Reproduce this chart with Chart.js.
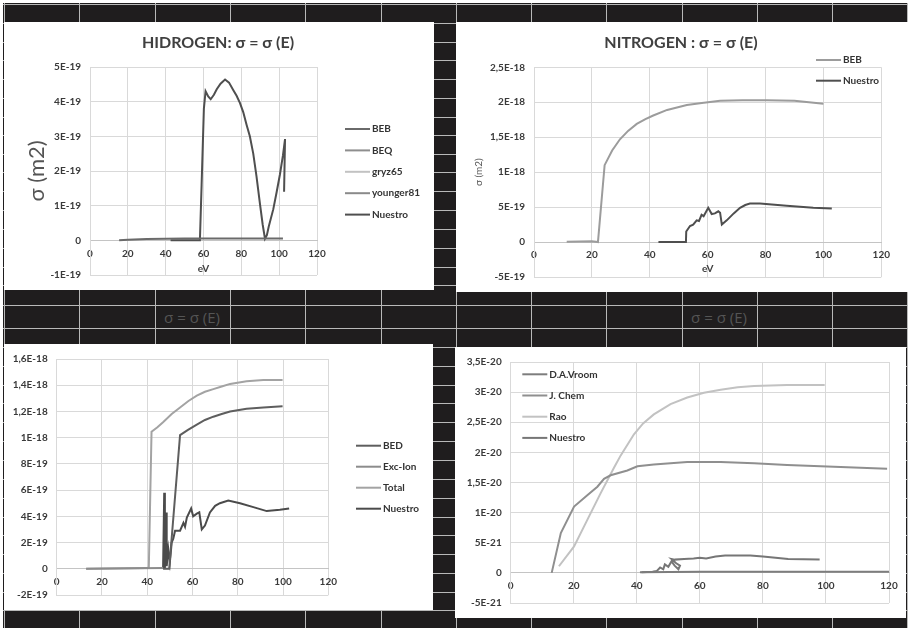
<!DOCTYPE html>
<html>
<head>
<meta charset="utf-8">
<script src="https://cdn.jsdelivr.net/npm/chart.js@4.4.1/dist/chart.umd.min.js"></script>
<style>
  html, body { margin: 0; padding: 0; background: #fff; }
  body { width: 908px; height: 628px; position: relative; overflow: hidden; font-family: Lato, sans-serif; }
  #sheet { position: absolute; left: 3px; top: 3px; width: 905px; height: 625px; background: #1f1d1e; }
  .gl { position: absolute; background: #b9b9b9; }
  .panel { position: absolute; background: #fff; }
  .panel canvas { display: block; }
  .cap { position: absolute; color: #555; font: 15px 'Open Sans', Lato, sans-serif; transform: translateX(-50%); white-space: nowrap; }
</style>
</head>
<body>
<div id="sheet"></div>
<div class="cap" style="left:192px; top:307px">σ = σ (E)</div>
<div class="cap" style="left:719px; top:307px">σ = σ (E)</div>
<div class="panel" style="left:4px; top:22px; width:430px; height:268px"><canvas id="hydrogen" width="430" height="268"></canvas></div>
<div class="panel" style="left:456px; top:22px; width:452px; height:270px"><canvas id="nitrogen" width="452" height="270"></canvas></div>
<div class="panel" style="left:4px; top:344px; width:429px; height:266px"><canvas id="chartC" width="429" height="266"></canvas></div>
<div class="panel" style="left:455px; top:347px; width:451px; height:271px"><canvas id="chartD" width="451" height="271"></canvas></div>
<script>
// shared x ticks (eV)
const xTicks = [0, 20, 40, 60, 80, 100, 120];

// --- HIDROGEN (values in 1E-19 m2) ---
const h2Series = ['BEB', 'BEQ', 'gryz65', 'younger81', 'Nuestro'];
const h2YTicks = [-1e-19, 0, 1e-19, 2e-19, 3e-19, 4e-19, 5e-19];
const h2YLabels = ['-1E-19', '0', '1E-19', '2E-19', '3E-19', '4E-19', '5E-19'];
const h2BEB = [[15.4, 0], [20, 0.02], [30, 0.04], [50, 0.05], [80, 0.05], [102, 0.05]];
const h2BEQ = [];
const h2Gryz = [];
const h2Younger = [];
const h2Nuestro = [[42.6, 0], [58.1, 0], [59, 1.6], [60.2, 3.8], [61.1, 4.3], [62.5, 4.15], [63.8, 4.07],
  [65.5, 4.2], [67, 4.36], [69, 4.52], [71.4, 4.64], [73.5, 4.55], [75.7, 4.34], [77.5, 4.17],
  [79.3, 3.96], [81, 3.7], [82.8, 3.33], [84.5, 3.0], [86.3, 2.5], [88, 1.85], [89.9, 1.03],
  [91.3, 0.45], [92.5, 0.05], [93.5, 0.15], [94.5, 0.4], [96.9, 0.9], [98.7, 1.4], [100.4, 1.9],
  [102, 2.45], [103.1, 2.92], [102.6, 1.4]];

// --- NITROGEN (values in 1E-18 m2) ---
const n2Series = ['BEB', 'Nuestro'];
const n2YTicks = [-5e-19, 0, 5e-19, 1e-18, 1.5e-18, 2e-18, 2.5e-18];
const n2YLabels = ['-5E-19', '0', '5E-19', '1E-18', '1,5E-18', '2E-18', '2,5E-18'];
const n2BEB = [[11.3, 0.005], [20, 0.01], [22.1, 0], [24.4, 1.10], [27, 1.31], [29.7, 1.47], [32.5, 1.59],
  [35.5, 1.69], [38.5, 1.76], [41.2, 1.81], [46, 1.89], [52.8, 1.96], [58, 1.99], [64.3, 2.02],
  [72, 2.03], [80.4, 2.03], [90, 2.02], [100, 1.98]];
const n2Nuestro = [[43, 0], [52.5, 0], [52.6, 0.15], [53.9, 0.23], [55, 0.25], [56.2, 0.31], [57, 0.3],
  [57.9, 0.39], [58.6, 0.37], [60.2, 0.49], [61.4, 0.40], [62.5, 0.41], [63.7, 0.44], [64.3, 0.42],
  [64.9, 0.25], [66.6, 0.31], [69, 0.41], [71.2, 0.49], [73, 0.53], [74.6, 0.55], [78.1, 0.55],
  [87.3, 0.52], [96.5, 0.49], [102.9, 0.48]];

// --- third chart (values in 1E-18 m2) ---
const cSeries = ['BED', 'Exc-Ion', 'Total', 'Nuestro'];
const cYTicks = [-2e-19, 0, 2e-19, 4e-19, 6e-19, 8e-19, 1e-18, 1.2e-18, 1.4e-18, 1.6e-18];
const cYLabels = ['-2E-19', '0', '2E-19', '4E-19', '6E-19', '8E-19', '1E-18', '1,2E-18', '1,4E-18', '1,6E-18'];
const cBED = [[47, 0], [49.7, 0], [54.5, 1.02], [58, 1.06], [61.9, 1.10], [65.5, 1.135], [69.2, 1.16],
  [72.9, 1.18], [76.6, 1.20], [83.9, 1.22], [91.3, 1.23], [99.8, 1.24]];
const cExcIon = [[13, 0], [47, 0.005]];
const cTotal = [[13, 0], [39.7, 0.005], [40.7, 0.01], [41.9, 1.045], [44.5, 1.08], [47.1, 1.12],
  [50.8, 1.18], [54.5, 1.23], [58.2, 1.28], [61.9, 1.32], [65.5, 1.35], [69.2, 1.37], [72.9, 1.39],
  [76.6, 1.41], [83.9, 1.43], [91.3, 1.44], [99.8, 1.44]];
const cNuestro = [[47, 0], [47.5, 0.58], [47.8, 0], [48.3, 0.43], [48.6, 0.02], [49.3, 0.15], [50, 0.05],
  [50.8, 0.2], [51.5, 0.23], [52.3, 0.29], [54.5, 0.29], [56, 0.35], [56.7, 0.32], [57.5, 0.39],
  [59.4, 0.46], [60.3, 0.40], [61.9, 0.42], [63, 0.43], [64.1, 0.30], [65.5, 0.33], [67.7, 0.43],
  [70, 0.48], [72.1, 0.50], [75.8, 0.52], [81, 0.50], [86.9, 0.47], [92.8, 0.44], [98.6, 0.45], [102.7, 0.46]];

// --- fourth chart (values in 1E-20 m2) ---
const dSeries = ['D.A.Vroom', 'J. Chem', 'Rao', 'Nuestro'];
const dYTicks = [-5e-21, 0, 5e-21, 1e-20, 1.5e-20, 2e-20, 2.5e-20, 3e-20, 3.5e-20];
const dYLabels = ['-5E-21', '0', '5E-21', '1E-20', '1,5E-20', '2E-20', '2,5E-20', '3E-20', '3,5E-20'];
const dVroom = [[41, 0.01], [60, 0.02], [120, 0.02]];
const dJChem = [[13, 0], [15.9, 0.66], [20.1, 1.10], [24.3, 1.29], [27.5, 1.43], [29.6, 1.56],
  [31.7, 1.62], [37, 1.70], [40.2, 1.77], [45.4, 1.80], [56, 1.84], [66.6, 1.84], [77.2, 1.82],
  [87.7, 1.79], [98.3, 1.77], [119.4, 1.73]];
const dRao = [[15.3, 0.11], [20.1, 0.44], [24.3, 0.88], [28.5, 1.32], [32.8, 1.75], [34.9, 1.95],
  [39.1, 2.30], [42, 2.48], [45.4, 2.63], [50.7, 2.80], [56, 2.91], [61.3, 2.99], [66.6, 3.04],
  [72, 3.08], [77.2, 3.10], [87.7, 3.12], [99.6, 3.12]];
const dNuestro = [[41.5, 0.01], [45, 0.02], [46.3, 0.03], [47.4, 0.09], [48.4, 0.06], [48.9, 0.14],
  [50, 0.1], [51, 0.19], [52, 0.12], [53.2, 0.06], [53.7, 0.12], [52.5, 0.16], [51, 0.23], [52, 0.22],
  [55, 0.23], [58, 0.24], [60, 0.25], [62, 0.24], [65, 0.27], [68, 0.29], [76, 0.29], [80, 0.27],
  [88, 0.23], [98, 0.22]];

// spreadsheet grid behind the charts
const gridCols = [4, 79, 154.5, 230, 305, 380.5, 455.5, 531, 606, 682, 757, 832, 907];
const gridRows = [3.5, 22.5, 41.5, 60, 79, 98, 117, 135, 154, 172, 191, 210, 229, 248, 267, 285,
  304.5, 328, 347, 366, 385, 403, 422, 441, 460, 479, 498, 517, 535, 554, 573, 592, 610];
const sheet = document.getElementById('sheet');
gridCols.forEach(x => {
  const d = document.createElement('div');
  d.className = 'gl';
  d.style.cssText = `left:${Math.round(x)}px;top:3px;width:1px;height:625px`;
  sheet.after(d);
});
gridRows.forEach(y => {
  const d = document.createElement('div');
  d.className = 'gl';
  d.style.cssText = `left:3px;top:${Math.round(y)}px;width:905px;height:1px`;
  sheet.after(d);
});

const FONT = 'Lato, "DejaVu Sans", sans-serif';
const tickFont = { family: FONT, size: 10, weight: 'bold' };

// legend (short line + name) and panel title drawn at fixed spots
const sideLegend = {
  id: 'sideLegend',
  afterDraw(chart, args, opts) {
    const ctx = chart.ctx;
    ctx.save();
    ctx.textBaseline = 'middle';
    if (opts.title) {
      ctx.font = 'bold 16px ' + FONT;
      ctx.fillStyle = '#404040';
      ctx.textAlign = 'center';
      ctx.fillText(opts.title, opts.titleX, opts.titleY);
    }
    ctx.textAlign = 'left';
    ctx.font = 'bold 10px ' + FONT;
    chart.data.datasets.forEach((ds, i) => {
      const y = opts.y + i * opts.gap;
      ctx.strokeStyle = ds.borderColor;
      ctx.lineWidth = 2;
      ctx.beginPath();
      ctx.moveTo(opts.x, y);
      ctx.lineTo(opts.x + 25, y);
      ctx.stroke();
      ctx.fillStyle = '#333';
      ctx.fillText(ds.label, opts.x + 27, y);
    });
    ctx.restore();
  }
};

function toPts(arr, unit) {
  return arr.map(p => ({ x: p[0], y: p[1] * unit }));
}

function makeChart(id, c) {
  const ctx = document.getElementById(id).getContext('2d');
  return new Chart(ctx, {
    type: 'scatter',
    data: {
      datasets: c.series.map((name, i) => ({
        label: name,
        data: toPts(c.data[i], c.unit),
        showLine: true,
        borderColor: c.colors[i],
        backgroundColor: c.colors[i],
        borderWidth: 2,
        pointRadius: 0,
        tension: c.tension[i]
      }))
    },
    options: {
      responsive: false,
      animation: false,
      layout: { padding: c.pad },
      plugins: {
        legend: { display: false },
        tooltip: { enabled: false },
        title: { display: false },
        sideLegend: c.legend
      },
      scales: {
        x: {
          type: 'linear',
          position: { y: 0 },
          min: 0, max: 120,
          afterBuildTicks: s => { s.ticks = xTicks.map(v => ({ value: v })); },
          afterFit: s => { s.height = c.xH; },
          grid: { color: '#d9d9d9', drawTicks: false },
          border: { color: '#c4c4c4' },
          ticks: { padding: 7, font: tickFont, color: '#3a3a3a', maxRotation: 0, autoSkip: false },
          title: c.xTitle ? {
            display: true, text: c.xTitle, color: '#404040',
            font: { family: FONT, size: 10, weight: 'bold' },
            padding: { top: 0, bottom: c.xTitlePad }
          } : { display: false }
        },
        y: {
          type: 'linear',
          min: c.yTicks[0], max: c.yTicks[c.yTicks.length - 1],
          afterBuildTicks: s => { s.ticks = c.yTicks.map(v => ({ value: v })); },
          afterFit: s => { s.width = c.yW; },
          grid: { color: '#d9d9d9', drawTicks: false },
          border: { color: '#d9d9d9' },
          ticks: { padding: 9, font: tickFont, color: '#3a3a3a', callback: (v, i) => c.yLabels[i] },
          title: c.yTitle ? {
            display: true, text: 'σ (m2)', color: '#555',
            font: { family: FONT, size: c.yTitle.size },
            padding: { top: c.yTitle.pad, bottom: 0 }
          } : { display: false }
        }
      }
    },
    plugins: [sideLegend]
  });
}

makeChart('hydrogen', {
  series: h2Series,
  data: [h2BEB, h2BEQ, h2Gryz, h2Younger, h2Nuestro],
  unit: 1e-19,
  colors: ['#6a6a6a', '#8e8e8e', '#c2c2c2', '#8a8a8a', '#4f4f4f'],
  tension: [0, 0, 0, 0, 0],
  yTicks: h2YTicks, yLabels: h2YLabels,
  xTitle: 'eV', xTitlePad: -1,
  yTitle: { size: 22, pad: 20 },
  pad: { left: 0, top: 45, right: 117, bottom: 0 },
  yW: 86, xH: 33,
  legend: { x: 341, y: 107, gap: 21.4, title: 'HIDROGEN: σ = σ (E)', titleX: 214, titleY: 21 }
});

makeChart('nitrogen', {
  series: n2Series,
  data: [n2BEB, n2Nuestro],
  unit: 1e-18,
  colors: ['#9c9c9c', '#4f4f4f'],
  tension: [0, 0],
  yTicks: n2YTicks, yLabels: n2YLabels,
  xTitle: 'eV', xTitlePad: -1.7,
  yTitle: { size: 10, pad: 17 },
  pad: { left: 0, top: 45.3, right: 26.7, bottom: 0 },
  yW: 78, xH: 31.3,
  legend: { x: 360, y: 38, gap: 20.7, title: 'NITROGEN : σ = σ (E)', titleX: 225, titleY: 21 }
});

makeChart('chartC', {
  series: cSeries,
  data: [cBED, cExcIon, cTotal, cNuestro],
  unit: 1e-18,
  colors: ['#5e5e5e', '#8c8c8c', '#a3a3a3', '#4b4b4b'],
  tension: [0, 0, 0, 0],
  yTicks: cYTicks, yLabels: cYLabels,
  pad: { left: 0, top: 14.3, right: 104.7, bottom: 0 },
  yW: 52.7, xH: 14,
  legend: { x: 352, y: 101.7, gap: 21 }
});

makeChart('chartD', {
  series: dSeries,
  data: [dVroom, dJChem, dRao, dNuestro],
  unit: 1e-20,
  colors: ['#7d7d7d', '#8f8f8f', '#c2c2c2', '#767676'],
  tension: [0, 0, 0, 0],
  yTicks: dYTicks, yLabels: dYLabels,
  pad: { left: 0, top: 7, right: 17, bottom: 0 },
  yW: 55.7, xH: 20.7,
  legend: { x: 67.3, y: 27.3, gap: 21.2 }
});
</script>
</body>
</html>
